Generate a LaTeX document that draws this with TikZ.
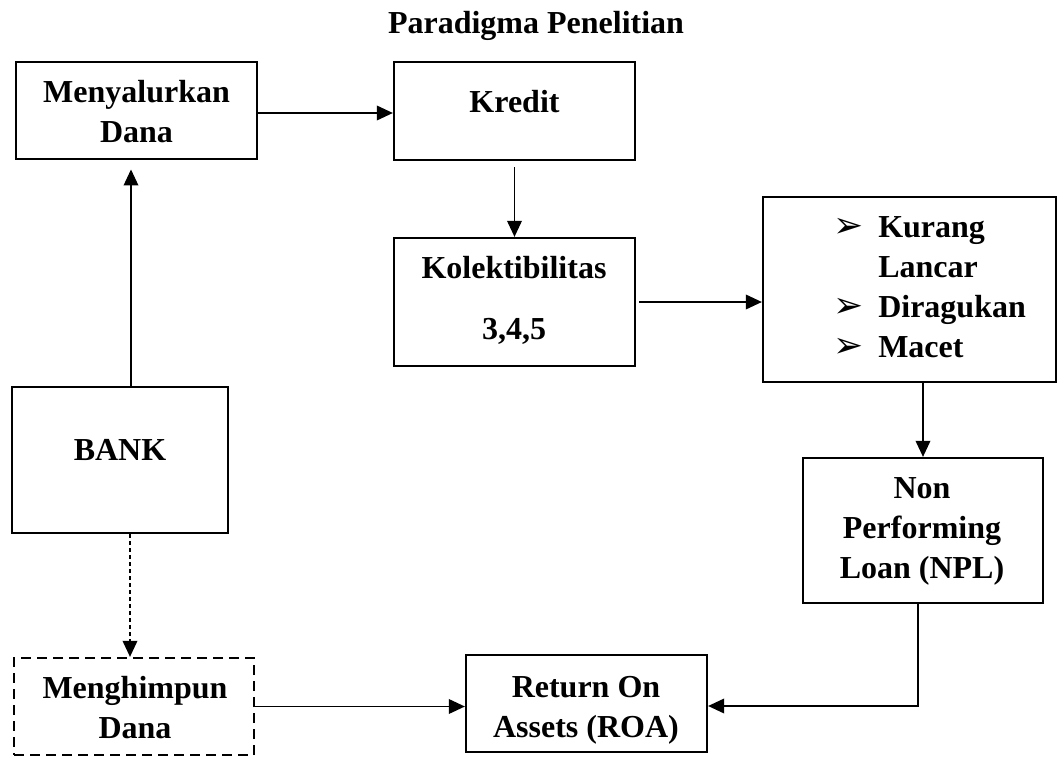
\documentclass[tikz,border=0pt]{standalone}
\usepackage{fontspec}
\setmainfont{Liberation Serif}
\newfontfamily\dejavu{DejaVu Sans}
\usetikzlibrary{arrows.meta,fit,calc}
\newcommand{\mlines}[1]{\begin{tabular}[t]{@{}c@{}}#1\end{tabular}}
\newcommand{\bulmark}{\makebox[33.75pt][l]{\dejavu\fontsize{27}{30}\selectfont ➢}}
\begin{document}
\begin{tikzpicture}[x=0.75pt,y=-0.75pt,
  box/.style={draw, line width=1.7pt, inner sep=0pt},
  dbox/.style={box, dash pattern=on 7.5pt off 4.5pt},
  txt/.style={anchor=base, inner sep=0pt, font=\bfseries\fontsize{24}{30}\selectfont},
  arr/.style={line width=1pt, -{Triangle[length=12pt,width=11pt]}},
  darr/.style={arr, dash pattern=on 3pt off 2.25pt}]
\useasboundingbox (0,0) rectangle (1058,757);
% boxes
\node[box, fit={(16,62)(257,159)}] (men) {};
\node[box, fit={(394,62)(635,160)}] (kre) {};
\node[box, fit={(394,238)(635,366)}] (kol) {};
\node[box, fit={(763,197)(1056,382)}] (bul) {};
\node[box, fit={(12,387)(228,533)}] (bank) {};
\node[box, fit={(803,458)(1043,603)}] (npl) {};
\node[box, fit={(466,655)(707,752)}] (roa) {};
\node[dbox, fit={(14,658)(254,755)}] (mgh) {};
% texts
\node[txt] (ttl) at (536,33) {Paradigma Penelitian};
\node[txt] (tmen) at (136.5,102) {\mlines{Menyalurkan\\Dana}};
\node[txt] (tkre) at (514.5,112) {Kredit};
\node[txt] (tkol) at (514,278) {\mlines{Kolektibilitas\\[15.75pt]3,4,5}};
\node[txt, anchor=base west] (tbul) at (833,237) {\begin{tabular}[t]{@{}l@{}l@{}}
  \bulmark & Kurang\\
  & Lancar\\
  \bulmark & Diragukan\\
  \bulmark & Macet
  \end{tabular}};
\node[txt] (tbank) at (120,460) {BANK};
\node[txt] (tnpl) at (922,498) {\mlines{Non\\Performing\\Loan (NPL)}};
\node[txt] (troa) at (586,697) {\mlines{Return On\\Assets (ROA)}};
\node[txt] (tmgh) at (135,698) {\mlines{Menghimpun\\Dana}};
% connectors
\draw[arr] ($(men.east)+(0,2.5)$) -- ($(men.east -| kre.west)+(0,2.5)$);
\coordinate (b1) at ($(bank.north)+(11,0)$);
\draw[arr, shorten >=7pt] (b1) -- (b1 |- men.south);
\draw[arr, shorten <=4.5pt] (kre.south) -- (kol.north);
\draw[arr, shorten <=2.25pt] (kol.east) -- (kol.east -| bul.west);
\draw[arr] (npl.north |- bul.south) -- (npl.north);
\coordinate (n1) at ($(npl.south)+(-5,0)$);
\draw[arr] (n1) |- ($(roa.east)+(0,2.5)$);
\coordinate (b2) at ($(bank.south)+(10,0)$);
\draw[darr] (b2) -- (b2 |- mgh.north);
\draw[arr] (mgh.east) -- (mgh.east -| roa.west);
\end{tikzpicture}
\end{document}
